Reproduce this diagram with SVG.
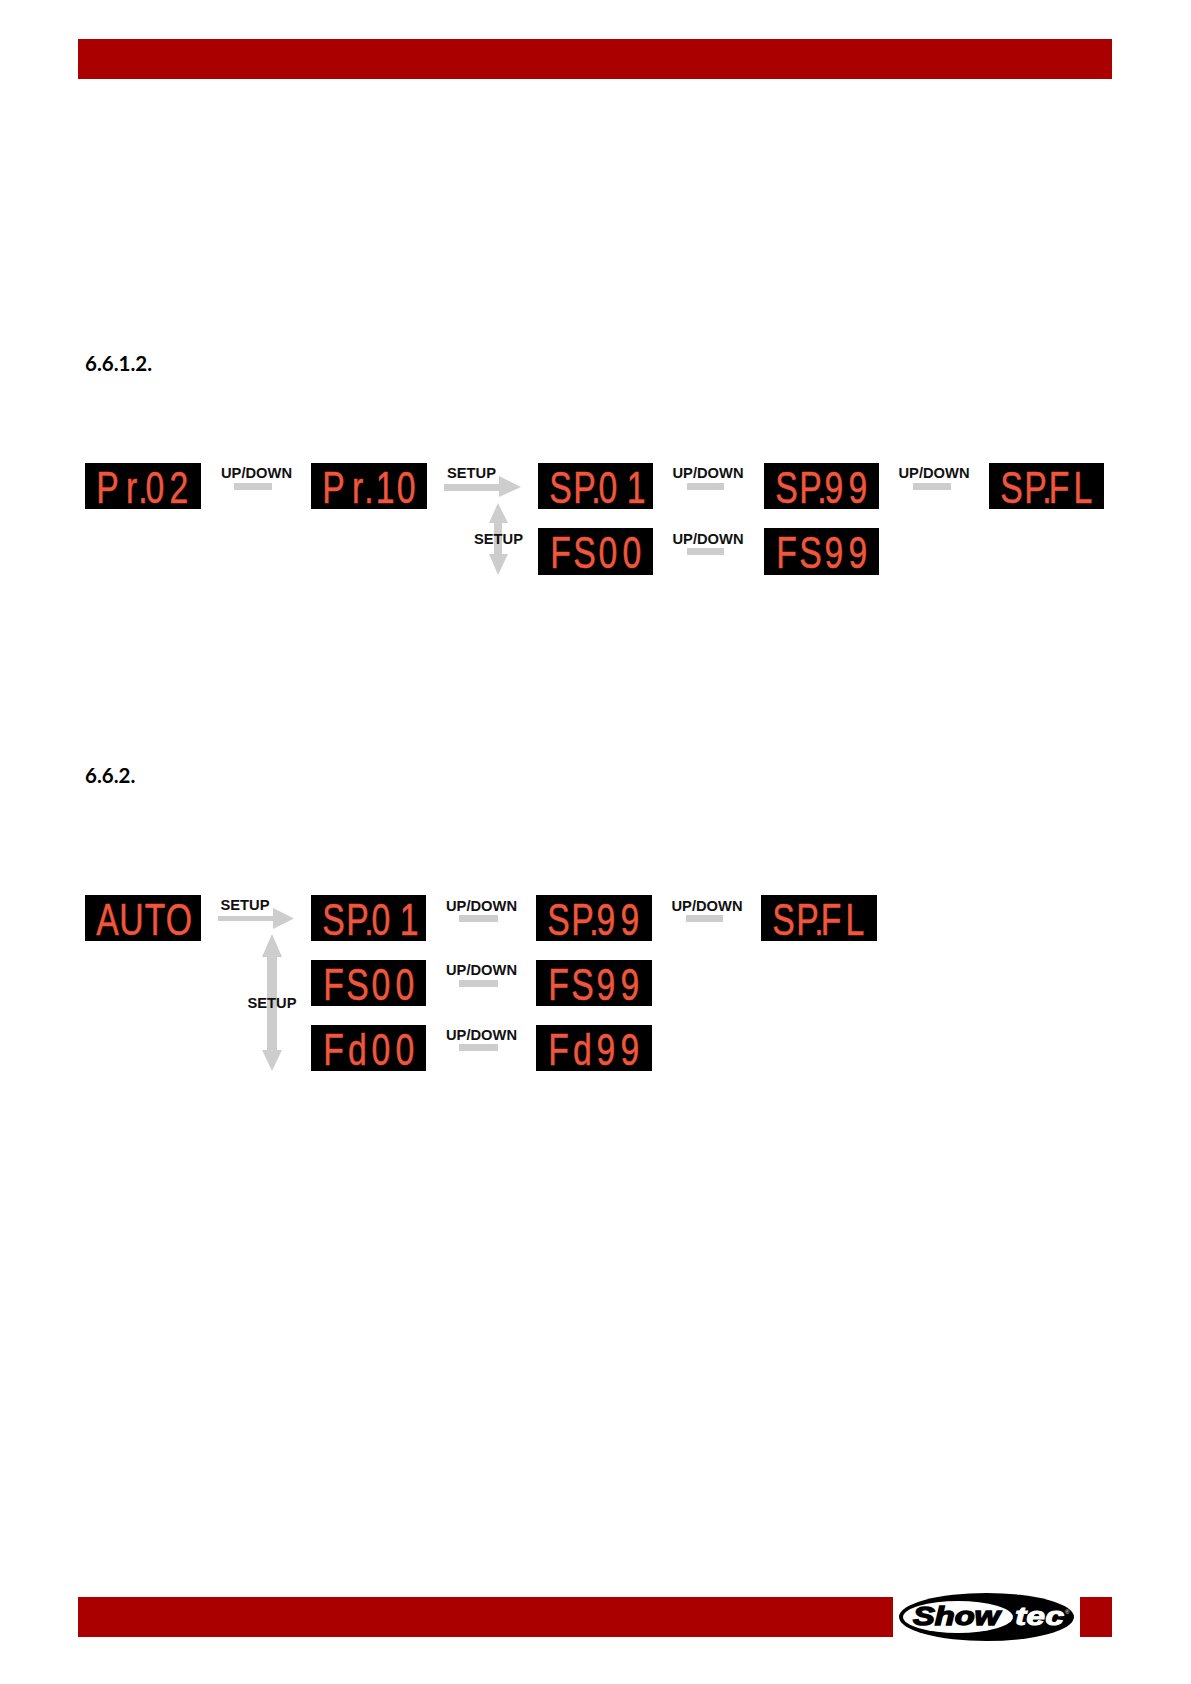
<svg xmlns="http://www.w3.org/2000/svg" width="1191" height="1684" viewBox="0 0 1191 1684">
<style>
.bg{fill:#fff}
.band{fill:#ab0000}
.disp{fill:#000}
.led{font-family:"Liberation Sans",Arial,sans-serif;font-size:45px;fill:#f0563c;stroke:#f0563c;stroke-width:.5;text-anchor:middle}
.lab{font-family:"Liberation Sans",Arial,sans-serif;font-size:14.7px;font-weight:700;fill:#111;text-anchor:middle}
.head{font-family:Lato,"Noto Sans",sans-serif;font-size:20.5px;font-weight:700;fill:#000}
.conn{fill:#cdcdcd}
.logo{font-family:"Liberation Sans",Arial,sans-serif;font-weight:700;font-style:italic}
</style>
<rect class="bg" width="1191" height="1684"/>
<g id="header"><rect class="band" x="78" y="39" width="1034" height="40"/></g>
<g id="headings">
<text class="head" x="85" y="371">6.6.1.2.</text>
<text class="head" x="85" y="783">6.6.2.</text>
</g>
<g id="connectors">
<rect class="conn" x="234" y="483" width="38" height="7"/>
<polygon class="conn" points="444,484 499,484 499,476 521,487 499,497 499,491 444,491"/>
<polygon class="conn" points="498,503 508,523 502,523 502,554 508,554 498,575 489,554 494,554 494,523 489,523"/>
<rect class="conn" x="687" y="483" width="37" height="7"/>
<rect class="conn" x="913" y="483" width="38" height="7"/>
<rect class="conn" x="687" y="548" width="37" height="7"/>
<polygon class="conn" points="218,916 273,916 273,908 294,918.500 273,929 273,921 218,921"/>
<polygon class="conn" points="272,934 282,957 277,957 277,1050 282,1050 272,1071 262,1050 267,1050 267,957 262,957"/>
<rect class="conn" x="459" y="915" width="39" height="7"/>
<rect class="conn" x="686" y="915" width="37" height="7"/>
<rect class="conn" x="459" y="980" width="39" height="7"/>
<rect class="conn" x="459" y="1044" width="39" height="7"/>
</g>
<g id="labels">
<text class="lab" x="256.500" y="478">UP/DOWN</text>
<text class="lab" x="471.500" y="478">SETUP</text>
<text class="lab" x="498.500" y="544">SETUP</text>
<text class="lab" x="708" y="478">UP/DOWN</text>
<text class="lab" x="934" y="478">UP/DOWN</text>
<text class="lab" x="708" y="544">UP/DOWN</text>
<text class="lab" x="245" y="910">SETUP</text>
<text class="lab" x="272" y="1008">SETUP</text>
<text class="lab" x="481.500" y="911">UP/DOWN</text>
<text class="lab" x="707" y="911">UP/DOWN</text>
<text class="lab" x="481.500" y="975">UP/DOWN</text>
<text class="lab" x="481.500" y="1040">UP/DOWN</text>
</g>
<g id="d-pr02"><rect class="disp" x="85" y="463" width="116" height="46"/><text class="led" transform="translate(85 503) scale(.75 1)" x="30 62 77.300 93.300 125.300">Pr.02</text></g>
<g id="d-pr10"><rect class="disp" x="311" y="463" width="116" height="46"/><text class="led" transform="translate(311 503) scale(.75 1)" x="30 62 77.300 99 127">Pr.10</text></g>
<g id="d-sp01"><rect class="disp" x="538" y="463" width="115" height="46"/><text class="led" transform="translate(538 503) scale(.75 1)" x="30 62 77.300 93.300 131">SP.01</text></g>
<g id="d-sp99"><rect class="disp" x="764" y="463" width="115" height="46"/><text class="led" transform="translate(764 503) scale(.75 1)" x="30 62 77.300 93.300 125.300">SP.99</text></g>
<g id="d-spfl"><rect class="disp" x="989" y="463" width="115" height="46"/><text class="led" transform="translate(989 503) scale(.75 1)" x="30 62 77.300 93.300 125.300">SP.FL</text></g>
<g id="d-fs00"><rect class="disp" x="538" y="528" width="115" height="47"/><text class="led" transform="translate(538 568) scale(.75 1)" x="30 62 93.300 125.300">FS00</text></g>
<g id="d-fs99"><rect class="disp" x="764" y="528" width="115" height="47"/><text class="led" transform="translate(764 568) scale(.75 1)" x="30 62 93.300 125.300">FS99</text></g>
<g id="d-auto"><rect class="disp" x="85" y="895" width="116" height="46"/><text class="led" transform="translate(85 935) scale(.75 1)" x="30 62 93.300 125.300">AUTO</text></g>
<g id="d-sp01b"><rect class="disp" x="311" y="895" width="115" height="46"/><text class="led" transform="translate(311 935) scale(.75 1)" x="30 62 77.300 93.300 131">SP.01</text></g>
<g id="d-sp99b"><rect class="disp" x="536" y="895" width="116" height="46"/><text class="led" transform="translate(536 935) scale(.75 1)" x="30 62 77.300 93.300 125.300">SP.99</text></g>
<g id="d-spflb"><rect class="disp" x="761" y="895" width="116" height="46"/><text class="led" transform="translate(761 935) scale(.75 1)" x="30 62 77.300 93.300 125.300">SP.FL</text></g>
<g id="d-fs00b"><rect class="disp" x="311" y="960" width="115" height="46"/><text class="led" transform="translate(311 1000) scale(.75 1)" x="30 62 93.300 125.300">FS00</text></g>
<g id="d-fs99b"><rect class="disp" x="536" y="960" width="116" height="46"/><text class="led" transform="translate(536 1000) scale(.75 1)" x="30 62 93.300 125.300">FS99</text></g>
<g id="d-fd00"><rect class="disp" x="311" y="1025" width="115" height="46"/><text class="led" transform="translate(311 1065) scale(.75 1)" x="30 62 93.300 125.300">Fd00</text></g>
<g id="d-fd99"><rect class="disp" x="536" y="1025" width="116" height="46"/><text class="led" transform="translate(536 1065) scale(.75 1)" x="30 62 93.300 125.300">Fd99</text></g>
<g id="footer">
<rect class="band" x="78" y="1597" width="815" height="40"/>
<rect class="band" x="1080" y="1597" width="32" height="40"/>
</g>
<g id="logo">
<ellipse cx="986.500" cy="1617" rx="87.500" ry="24" fill="#000"/>
<ellipse cx="958" cy="1617" rx="55" ry="16" fill="#fff"/>
<text class="logo" x="913" y="1625" font-size="26" fill="#000" stroke="#000" stroke-width="1.400" textLength="87" lengthAdjust="spacingAndGlyphs">Show</text>
<text class="logo" x="1015" y="1625" font-size="26" fill="#fff" stroke="#fff" stroke-width=".9" textLength="49" lengthAdjust="spacingAndGlyphs">tec</text>
<text x="1065" y="1614" font-family="Liberation Sans,Arial,sans-serif" font-size="6" fill="#fff">®</text>
</g>
</svg>
